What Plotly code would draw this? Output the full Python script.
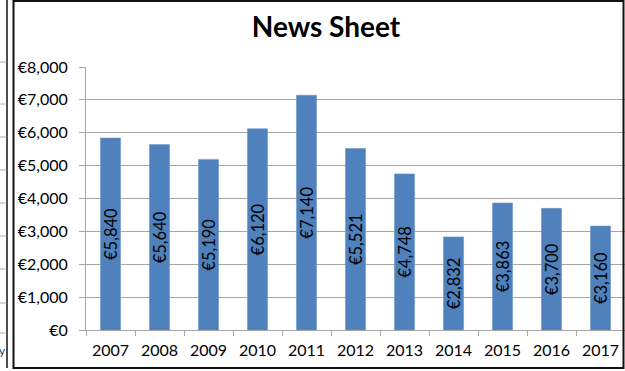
import plotly.graph_objects as go

# data
YEARS = ['2007', '2008', '2009', '2010', '2011', '2012', '2013', '2014', '2015', '2016', '2017']
SALES = [5840, 5640, 5190, 6120, 7140, 5521, 4748, 2832, 3863, 3700, 3160]
Y_TICKS = [0, 1000, 2000, 3000, 4000, 5000, 6000, 7000, 8000]
Y_TICK_TEXT = [f'€{v:,}' for v in Y_TICKS]

BAR_BLUE = '#4f81bd'
GRID_GREY = '#a6a6a6'
FONT = 'Lato, Calibri, sans-serif'

W, H = 625, 371
L, R, T, B = 86, 0, 67, 41
PW, PH = W - L - R, H - T - B


def px(x, y):
    """Pixel position -> paper coords (relative to plot area)."""
    return (x - L) / PW, (H - B - y) / PH


fig = go.Figure()

fig.add_trace(go.Bar(
    x=YEARS,
    y=SALES,
    marker=dict(color=BAR_BLUE, line=dict(color='#6f98cb', width=0.6)),
    texttemplate='€%{y:,}',
    textposition='inside',
    insidetextanchor='middle',
    textangle=-90,
    textfont=dict(family=FONT, size=16.5, color='#000000'),
    hoverinfo='skip',
))

shapes = []
# chart frame
x0, y0 = px(13.5, 368)
x1, y1 = px(623.5, 1)
shapes.append(dict(type='rect', xref='paper', yref='paper', x0=x0, y0=y0, x1=x1, y1=y1,
                   line=dict(color='#111111', width=2), layer='above'))
# neighbouring chart edge on the far left
vx, vy0 = px(7, 368)
_, vy1 = px(7, 0)
shapes.append(dict(type='line', xref='paper', yref='paper', x0=vx, x1=vx, y0=vy0, y1=vy1,
                   line=dict(color='#111111', width=1.5)))
for gy in [62, 104, 137, 170, 203, 236, 269, 303, 333]:
    ax, ay = px(0, gy)
    bx, _ = px(6.5, gy)
    shapes.append(dict(type='line', xref='paper', yref='paper', x0=ax, x1=bx, y0=ay, y1=ay,
                       line=dict(color='#b0b0b0', width=1)))

tx, _ = px(326, 0)
fig.update_layout(
    width=W, height=H,
    margin=dict(l=L, r=R, t=T, b=B),
    paper_bgcolor='white', plot_bgcolor='white',
    showlegend=False,
    bargap=0.59,
    uniformtext=dict(minsize=16.5, mode='show'),
    font=dict(family=FONT, size=16, color='#000000'),
    title=dict(text='<b>News Sheet</b>', font=dict(family=FONT, size=28, color='#000000'),
               x=tx, xref='paper', xanchor='center',
               y=1 - 27 / H, yref='container', yanchor='middle'),
    shapes=shapes,
    xaxis=dict(
        type='category',
        showline=True, linecolor=GRID_GREY, linewidth=1,
        ticks='outside', tickson='boundaries', ticklen=5, tickcolor=GRID_GREY,
        ticklabelstandoff=6,
        showgrid=False,
        tickfont=dict(family=FONT, size=16, color='#000000'),
    ),
    yaxis=dict(
        range=[0, 8000],
        tickmode='array', tickvals=Y_TICKS, ticktext=Y_TICK_TEXT,
        showline=True, linecolor=GRID_GREY, linewidth=1,
        ticks='outside', ticklen=6, tickcolor=GRID_GREY,
        ticklabelstandoff=8,
        showgrid=True, gridcolor=GRID_GREY, gridwidth=1,
        zeroline=False,
        tickfont=dict(family=FONT, size=16, color='#000000'),
    ),
)

fig.add_annotation(xref='paper', yref='paper', x=px(2, 350)[0], y=px(2, 350)[1],
                   text='y', showarrow=False, font=dict(family=FONT, size=12, color='#1f3d7a'),
                   xanchor='center', yanchor='middle')

fig.write_html('out.html', config={'displayModeBar': False},
               post_script="document.body.style.margin='0';document.body.style.overflow='hidden';")
